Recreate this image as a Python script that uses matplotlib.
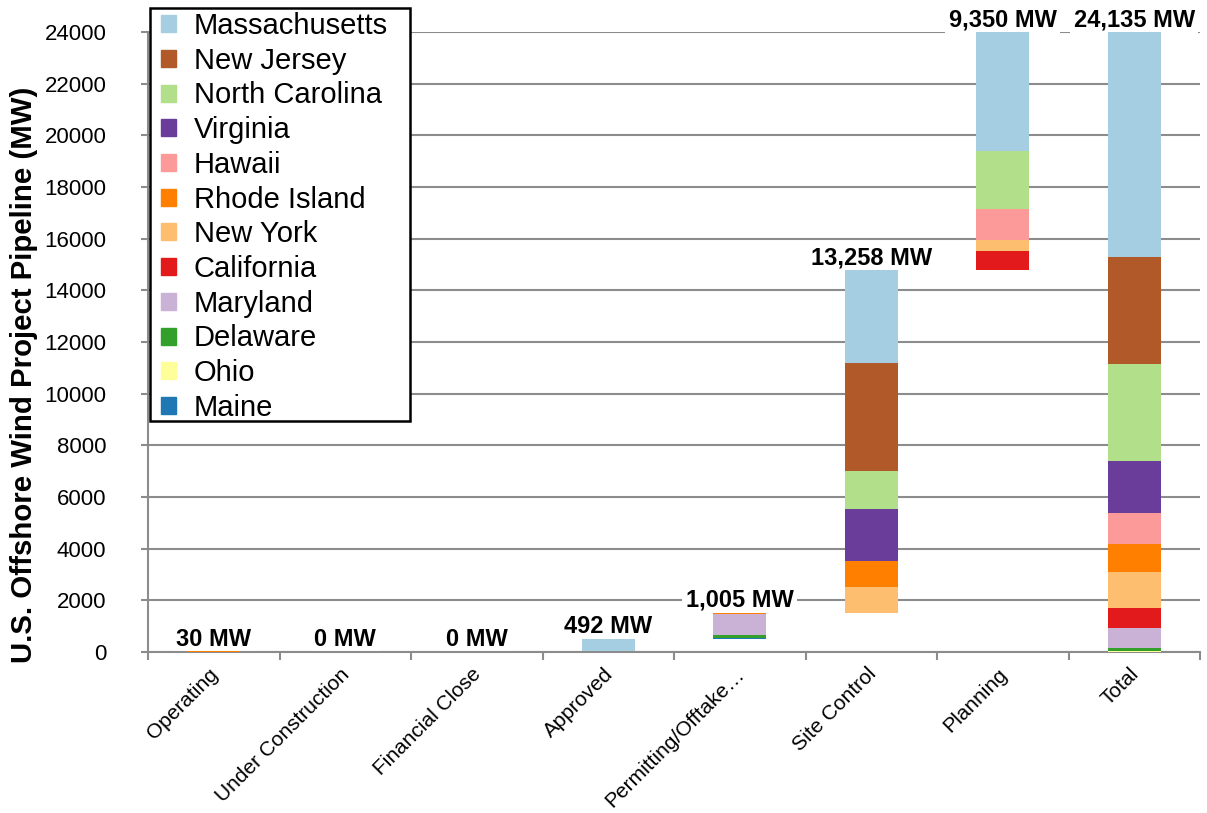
import matplotlib
matplotlib.use("Agg")
import matplotlib.pyplot as plt
import matplotlib.transforms as mtransforms
from matplotlib.patches import Rectangle
import numpy as np

plt.rcParams['font.family'] = ['Liberation Sans', 'DejaVu Sans']

stages = ["Operating", "Under Construction", "Financial Close", "Approved",
          "Permitting/Offtake…", "Site Control", "Planning", "Total"]

states = ["Massachusetts", "New Jersey", "North Carolina", "Virginia", "Hawaii",
          "Rhode Island", "New York", "California", "Maryland", "Delaware",
          "Ohio", "Maine"]
colors = ["#a6cee3", "#b15928", "#b2df8a", "#6a3d9a", "#fb9a99", "#ff7f00",
          "#fdbf6f", "#e31a1c", "#cab2d6", "#33a02c", "#ffff99", "#1f78b4"]

# MW per state for each pipeline stage (excluding Total, which is the sum)
operating     = {"Rhode Island": 30}
under_constr  = {}
financial     = {}
approved      = {"Massachusetts": 492}
permitting    = {"Maine": 12, "Ohio": 21, "Delaware": 110, "Maryland": 790, "Rhode Island": 72}
site_control  = {"New York": 1000, "Rhode Island": 1000, "Virginia": 2000,
                 "North Carolina": 1485, "New Jersey": 4170, "Massachusetts": 3603}
planning      = {"California": 751, "New York": 414, "Hawaii": 1200,
                 "North Carolina": 2245, "Massachusetts": 4740}

stage_data = [operating, under_constr, financial, approved, permitting, site_control, planning]
total = {s: sum(d.get(s, 0) for d in stage_data) for s in states}
all_data = stage_data + [total]

W, H = 1207, 813
fig = plt.figure(figsize=(W/100, H/100), dpi=100)
ax = fig.add_axes([148/W, 1-652/H, (1200-148)/W, (652-32)/H])

YMAX = 24000
x = np.arange(len(stages))
bar_w = 0.4
stack_order = states[::-1]  # bottom to top

cum = 0.0
tops = []
sums = []
for i, d in enumerate(all_data):
    is_total = (i == len(all_data) - 1)
    base = 0.0 if is_total else cum
    bottom = base
    for s in stack_order:
        v = d.get(s, 0)
        if v > 0:
            ax.bar(x[i], v, bottom=bottom, width=bar_w, color=colors[states.index(s)],
                   edgecolor='none', zorder=3)
            bottom += v
    ssum = sum(d.values())
    sums.append(ssum)
    tops.append(bottom)
    if not is_total:
        cum += ssum

ax.set_xlim(-0.5, len(stages) - 0.5)
ax.set_ylim(0, YMAX)
ax.set_yticks(np.arange(0, YMAX + 1, 2000))
ax.yaxis.grid(True, color='#8c8c8c', linewidth=1.5, zorder=0)
ax.set_axisbelow(True)

for sp in ['top', 'right']:
    ax.spines[sp].set_visible(False)
for sp in ['left', 'bottom']:
    ax.spines[sp].set_color('#8c8c8c')
    ax.spines[sp].set_linewidth(1.5)

ax.tick_params(axis='y', direction='out', length=5, width=1.5, color='#8c8c8c',
               labelsize=16, pad=25)
ax.set_xticks(x)
ax.set_xticklabels(stages, rotation=45, ha='right', rotation_mode='anchor', fontsize=15)
ax.tick_params(axis='x', length=0, pad=9)
ax.set_xticks(np.arange(-0.5, len(stages), 1.0), minor=True)
ax.tick_params(axis='x', which='minor', direction='out', length=6, width=1.5, color='#8c8c8c')
shift = mtransforms.ScaledTranslation(-5/100, 0, fig.dpi_scale_trans)
for lbl in ax.get_xticklabels():
    lbl.set_transform(lbl.get_transform() + shift)

ax.set_ylabel("U.S. Offshore Wind Project Pipeline (MW)", fontsize=21.2, fontweight='bold')
ax.yaxis.set_label_coords((38-148)/1052, (652-375)/620)

for i in range(len(stages)):
    y = min(tops[i], YMAX)
    ax.annotate(f"{sums[i]:,.0f} MW", xy=(x[i], y), xytext=(0, 0.5), textcoords='offset points',
                ha='center', va='bottom', fontsize=17, fontweight='bold', zorder=2,
                annotation_clip=False,
                bbox=dict(boxstyle='square,pad=0.15', facecolor='white', edgecolor='none'))

handles = [plt.Rectangle((0, 0), 1, 1, color=c) for c in colors]
leg = fig.legend(handles, states, loc='upper left', bbox_to_anchor=(161/W, 1-12/H),
                 fontsize=21, frameon=False,
                 handlelength=0.52, handleheight=0.52, handletextpad=0.6,
                 labelspacing=0.23, borderpad=0, borderaxespad=0)
leg.set_zorder(10)

fig.canvas.draw()
bb = leg.get_window_extent()
fx0 = 150
fx1 = bb.x1 + 22
fy_top = H - 8
fy_bot = H - 421
frame = Rectangle((fx0/W, fy_bot/H), (fx1 - fx0)/W, (fy_top - fy_bot)/H,
                  transform=fig.transFigure, facecolor='white', edgecolor='black',
                  linewidth=1.8, zorder=9)
fig.patches.append(frame)

fig.savefig("out.png", dpi=100)
